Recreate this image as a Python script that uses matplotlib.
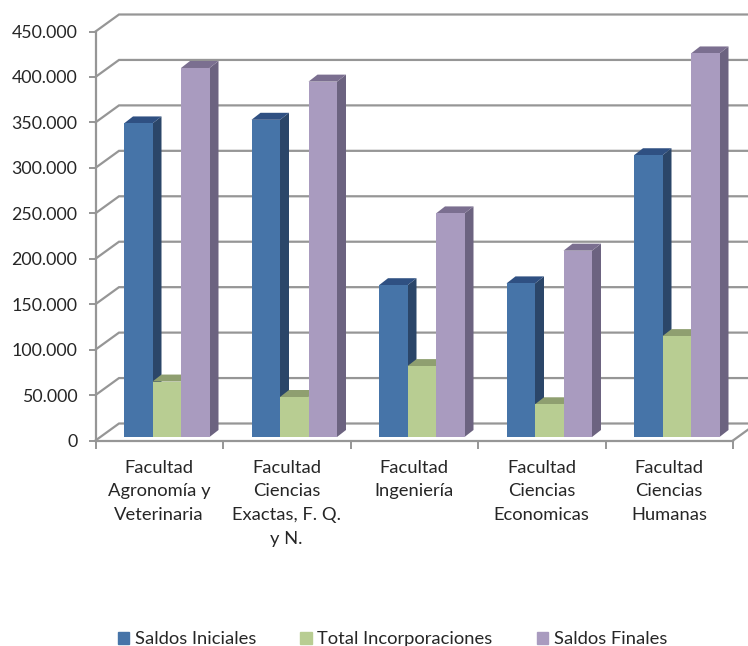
import matplotlib
matplotlib.use("Agg")
import matplotlib.pyplot as plt
from matplotlib.patches import Patch

categories = ["Facultad\nAgronomía y\nVeterinaria", "Facultad\nCiencias\nExactas, F. Q.\ny N.",
              "Facultad\nIngeniería", "Facultad\nCiencias\nEconomicas", "Facultad\nCiencias\nHumanas"]
saldos_iniciales = [345000, 349000, 167000, 169000, 310000]
total_incorporaciones = [61000, 44000, 78000, 36000, 111000]
saldos_finales = [406000, 391000, 246000, 205000, 422000]
series_names = ["Saldos Iniciales", "Total Incorporaciones", "Saldos Finales"]
yticks = [0, 50000, 100000, 150000, 200000, 250000, 300000, 350000, 400000, 450000]
front_cols = ["#4674A8", "#B8CD92", "#A99BBF"]
side_cols = ["#2B4669", "#8B9B6C", "#6C6380"]
top_cols = ["#2F5082", "#8F9F70", "#7B6F90"]
GRID = "#969696"
TXT = "#262626"

plt.rcParams["font.family"] = ["Lato", "DejaVu Sans"]
W, H = 748, 646
fig = plt.figure(figsize=(W / 100, H / 100), dpi=100)
L, R, B, T = 95.5, 733, 440.5, 31.5
ax = fig.add_axes([L / W, 1 - B / H, (R - L) / W, (B - T) / H])
ax.set_xlim(0, 5)
ax.set_ylim(0, 450000)
ax.patch.set_visible(False)
px = 5 / (R - L)
py = 450000 / (B - T)


def poly(xs, ys, color, z):
    ax.fill(xs, ys, color=color, lw=0, zorder=z, clip_on=False)


# walls
wx, wy = 23.5 * px, 17 * py
for v in yticks:
    ax.plot([0, wx, 5 + wx], [v, v + wy, v + wy], color=GRID, lw=1.6, zorder=1, clip_on=False,
            solid_joinstyle="miter")
ax.plot([5, 5 + wx], [0, wy], color=GRID, lw=1.6, zorder=1, clip_on=False)

# bars
bw = 28.5 * px
ox, oy = 28.5 * px, 3.5 * py
dx, dy = 9 * px, 7 * py
for s, vals in enumerate([saldos_iniciales, total_incorporaciones, saldos_finales]):
    for i, v in enumerate(vals):
        x0 = i + ox + s * bw
        x1 = x0 + bw
        z = 3 + s * 0.1
        poly([x1, x1 + dx, x1 + dx, x1], [oy, oy + dy, oy + v + dy, oy + v], side_cols[s], z)
        poly([x0, x0 + dx, x1 + dx, x1], [oy + v, oy + v + dy, oy + v + dy, oy + v], top_cols[s], z)
        poly([x0, x1, x1, x0], [oy, oy, oy + v, oy + v], front_cols[s], z + 0.01)

# axes
for k in ("top", "right"):
    ax.spines[k].set_visible(False)
for k in ("left", "bottom"):
    ax.spines[k].set_color(GRID)
    ax.spines[k].set_linewidth(1.6)
ax.set_yticks(yticks)
ax.set_yticklabels([f"{v:,}".replace(",", ".") for v in yticks], fontsize=12.8, color=TXT)
ax.set_xticks(range(6))
ax.set_xticklabels([])
ax.set_xticks([i + 0.5 for i in range(5)], minor=True)
ax.set_xticklabels(categories, minor=True, fontsize=13.2, color=TXT, linespacing=1.58)
ax.tick_params(axis="y", length=5, width=1.4, color=GRID, pad=8)
ax.tick_params(axis="x", which="major", length=6, width=1.4, color=GRID)
ax.tick_params(axis="x", which="minor", length=0, pad=14)

handles = [Patch(color=c, label=n) for c, n in zip(front_cols, series_names)]
fig.legend(handles=handles, loc="lower center", bbox_to_anchor=(392.5 / W, -0.002), ncol=3, frameon=False,
           fontsize=13.2, labelcolor=TXT, handlelength=0.62, handleheight=0.62, handletextpad=0.3,
           columnspacing=2.42, borderpad=0, borderaxespad=0)

fig.savefig("out.png", dpi=100)
